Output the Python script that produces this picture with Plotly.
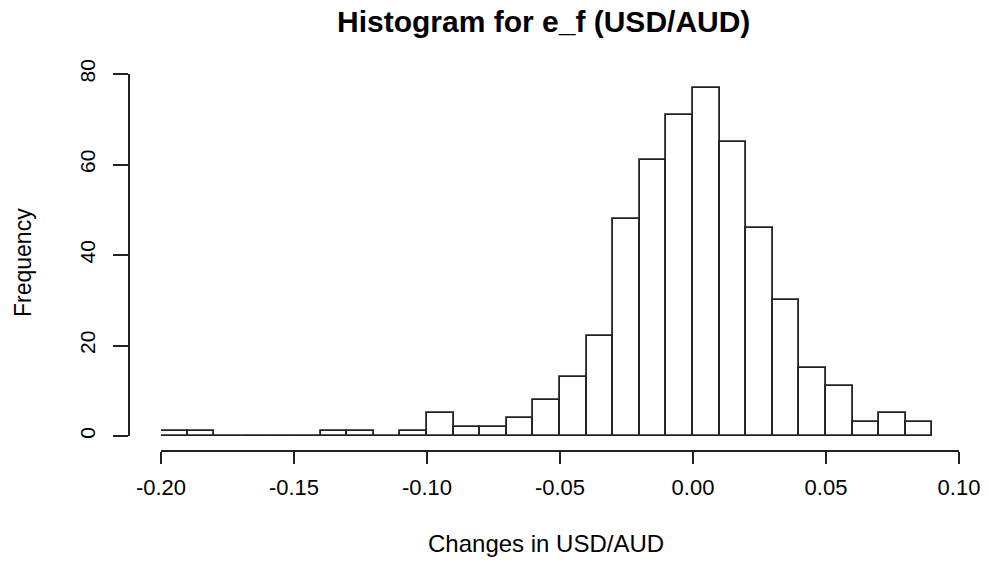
import plotly.graph_objects as go

# Histogram bins (left edges) and counts
bin_left = [-0.20, -0.19, -0.18, -0.17, -0.16, -0.15, -0.14, -0.13, -0.12, -0.11,
            -0.10, -0.09, -0.08, -0.07, -0.06, -0.05, -0.04, -0.03, -0.02, -0.01,
            0.00, 0.01, 0.02, 0.03, 0.04, 0.05, 0.06, 0.07, 0.08]
counts = [1, 1, 0, 0, 0, 0, 1, 1, 0, 1,
          5, 2, 2, 4, 8, 13, 22, 48, 61, 71,
          77, 65, 46, 30, 15, 11, 3, 5, 3]
bin_width = 0.01

x_ticks = [-0.20, -0.15, -0.10, -0.05, 0.00, 0.05, 0.10]
x_tick_labels = ["-0.20", "-0.15", "-0.10", "-0.05", "0.00", "0.05", "0.10"]
y_ticks = [0, 20, 40, 60, 80]
y_tick_labels = ["0", "20", "40", "60", "80"]

centers = [round(b + bin_width / 2, 4) for b in bin_left]

W, H = 989, 562
FONT = "Liberation Sans, Arial, sans-serif"

fig = go.Figure()
fig.add_trace(go.Bar(
    x=centers, y=counts, width=[bin_width] * len(counts),
    marker=dict(color="white", line=dict(color="#222222", width=1.8)),
    showlegend=False, hoverinfo="x+y",
))

fig.update_layout(
    width=W, height=H, autosize=False,
    margin=dict(l=0, r=0, t=0, b=0, pad=0),
    paper_bgcolor="white", plot_bgcolor="white",
    font=dict(family=FONT, color="black", size=21),
    bargap=0,
    xaxis=dict(
        domain=[161 / W, 959 / W], range=[-0.20, 0.10],
        tickvals=x_ticks, ticktext=x_tick_labels,
        showline=True, linecolor="#222222", linewidth=1.6,
        ticks="outside", ticklen=12, tickwidth=1.6, tickcolor="#222222",
        showgrid=False, zeroline=False, automargin=False,
        anchor="free", position=(H - 451) / H,
        ticklabelstandoff=5,
        tickfont=dict(size=22),
    ),
    yaxis=dict(
        domain=[(H - 436) / H, (H - 74) / H], range=[0, 80],
        tickvals=y_ticks, ticktext=y_tick_labels,
        showline=True, linecolor="#222222", linewidth=1.6,
        ticks="outside", ticklen=15, tickwidth=1.6, tickcolor="#222222",
        showgrid=False, zeroline=False, automargin=False,
        anchor="free", position=129 / W,
        tickangle=-90, ticklabelstandoff=10,
        tickfont=dict(size=21),
    ),
    annotations=[
        dict(text="<b>Histogram for e_f (USD/AUD)</b>", x=543 / W, y=(H - 21) / H,
             xref="paper", yref="paper", xanchor="center", yanchor="middle",
             showarrow=False, font=dict(size=30, family=FONT, color="black")),
        dict(text="Changes in USD/AUD", x=546 / W, y=(H - 543) / H,
             xref="paper", yref="paper", xanchor="center", yanchor="middle",
             showarrow=False, font=dict(size=24, family=FONT, color="black")),
        dict(text="Frequency", x=23 / W, y=(H - 263) / H, textangle=-90,
             xref="paper", yref="paper", xanchor="center", yanchor="middle",
             showarrow=False, font=dict(size=23, family=FONT, color="black")),
    ],
)

fig.write_html(
    "out.html",
    config={"displayModeBar": False},
    post_script="document.body.style.margin='0px';document.body.style.overflow='hidden';",
)
